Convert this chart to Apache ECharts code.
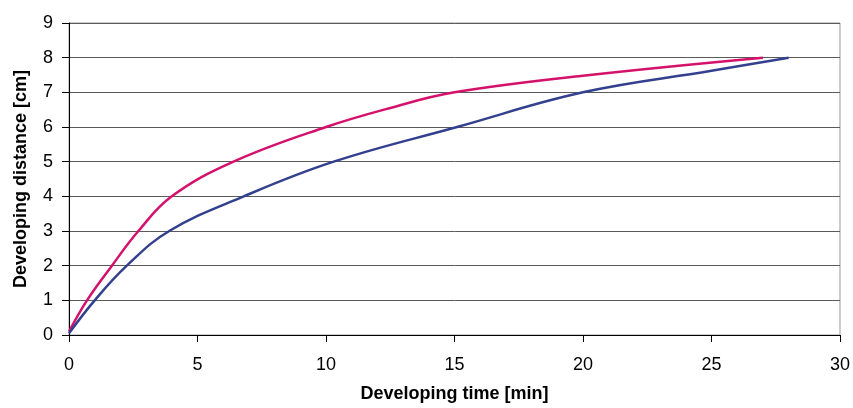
<!DOCTYPE html>
<html>
<head>
<meta charset="utf-8">
<script src="https://cdn.jsdelivr.net/npm/echarts@6/dist/echarts.min.js"></script>
<style>
  html, body { margin: 0; padding: 0; background: #fff; }
  #chart { width: 853px; height: 408px; }
</style>
</head>
<body>
<div id="chart"></div>
<script>
// values: [time min, distance cm]
const pinkTime = [0, 0.7, 1.67, 2.7, 4.0, 6.4, 10.0, 12.5, 15.0, 20.0, 27.0]
const pinkDist = [0.1, 1, 2, 3, 4, 5, 6, 6.55, 7, 7.48, 8]
const blueTime = [0, 1.0, 2.25, 3.9, 6.8, 10.3, 15.1, 20.0, 25.0, 28.0]
const blueDist = [0.05, 1, 2, 3, 4, 5, 6, 7, 7.62, 8]

const zip = (xs, ys) => xs.map((x, i) => [x, ys[i]])

const chart = echarts.init(document.getElementById('chart'))
const font = 'Liberation Sans, Arial, sans-serif'

chart.setOption({
  animation: false,
  grid: { left: 69, right: 13, top: 23, bottom: 71, show: true, borderColor: '#9a9a9a', borderWidth: 1 },
  xAxis: {
    type: 'value', min: 0, max: 30, interval: 5,
    name: 'Developing time [min]', nameLocation: 'middle', nameGap: 50,
    nameTextStyle: { color: '#000', fontSize: 18, fontWeight: 'bold', fontFamily: font },
    axisLine: { show: true, lineStyle: { color: '#000', width: 1 } },
    axisTick: { show: true, length: 7, lineStyle: { color: '#000' } },
    axisLabel: { color: '#000', fontSize: 18, fontFamily: font, margin: 21 },
    splitLine: { show: false }
  },
  yAxis: {
    type: 'value', min: 0, max: 9, interval: 1,
    name: 'Developing distance [cm]', nameLocation: 'middle', nameGap: 39,
    nameTextStyle: { color: '#000', fontSize: 18, fontWeight: 'bold', fontFamily: font },
    axisLine: { show: true, lineStyle: { color: '#000', width: 1 } },
    axisTick: { show: true, length: 7, lineStyle: { color: '#000' } },
    axisLabel: { color: '#000', fontSize: 18, fontFamily: font, margin: 16 },
    splitLine: { show: true, lineStyle: { color: '#5a5a5a', width: 1 } }
  },
  series: [
    {
      type: 'line', data: zip(pinkTime, pinkDist), smooth: 0.4, showSymbol: false,
      lineStyle: { color: '#d4126c', width: 2.5 }
    },
    {
      type: 'line', data: zip(blueTime, blueDist), smooth: 0.4, showSymbol: false,
      lineStyle: { color: '#33408e', width: 2.5 }
    }
  ]
})
</script>
</body>
</html>
